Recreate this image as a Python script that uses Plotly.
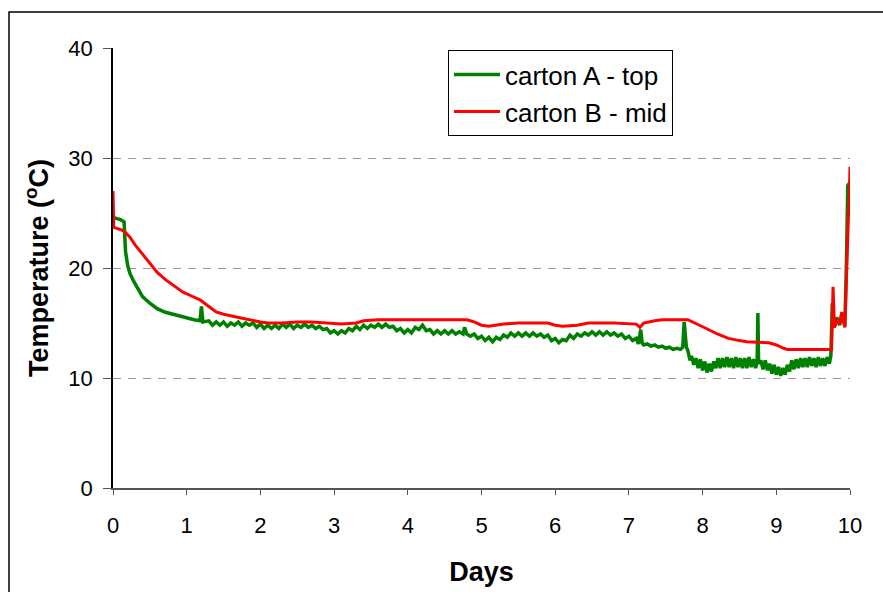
import plotly.graph_objects as go

# ---- data ----
green_days = [0.0, 0.05, 0.1, 0.15, 0.17, 0.2, 0.23, 0.28, 0.32, 0.4, 0.5, 0.6, 0.7, 0.81, 0.9, 1.0, 1.1, 1.18, 1.2, 1.22,
              1.3, 1.35, 1.4, 1.45, 1.5, 1.55, 1.6, 1.65, 1.7, 1.75, 1.8, 1.85, 1.9, 1.95, 2.0, 2.05, 2.1, 2.15, 2.2, 2.25,
              2.3, 2.35, 2.4, 2.45, 2.5, 2.55, 2.6, 2.65, 2.7, 2.75, 2.8, 2.85, 2.9, 2.95, 3.0, 3.05, 3.1, 3.15, 3.2, 3.25,
              3.3, 3.35, 3.4, 3.45, 3.5, 3.55, 3.6, 3.65, 3.7, 3.75, 3.8, 3.85, 3.9, 3.95, 4.0, 4.05, 4.1, 4.15, 4.2, 4.25,
              4.3, 4.35, 4.4, 4.45, 4.5, 4.55, 4.6, 4.65, 4.7, 4.75, 4.77, 4.8, 4.85, 4.9, 4.95, 5.0, 5.05, 5.1, 5.15, 5.2,
              5.25, 5.3, 5.35, 5.4, 5.45, 5.5, 5.55, 5.6, 5.65, 5.7, 5.75, 5.8, 5.85, 5.9, 5.95, 6.0, 6.05, 6.1, 6.15, 6.2,
              6.25, 6.3, 6.35, 6.4, 6.45, 6.5, 6.55, 6.6, 6.65, 6.7, 6.75, 6.8, 6.85, 6.9, 6.95, 7.0, 7.05, 7.1, 7.13, 7.16,
              7.18, 7.2, 7.25, 7.3, 7.35, 7.4, 7.45, 7.5, 7.55, 7.6, 7.65, 7.7, 7.73, 7.75, 7.78, 7.8, 7.83, 7.85,
              7.88, 7.91, 7.94, 7.97, 8.0, 8.03, 8.06, 8.09, 8.12, 8.15, 8.18, 8.21, 8.24, 8.27, 8.3, 8.33, 8.36, 8.39,
              8.42, 8.45, 8.48, 8.51, 8.54, 8.57, 8.6, 8.63, 8.66, 8.69, 8.72, 8.74, 8.75, 8.76, 8.79, 8.82, 8.85, 8.88,
              8.91, 8.94, 8.97, 9.0, 9.03, 9.06, 9.09, 9.12, 9.15, 9.18, 9.21, 9.24, 9.27, 9.3, 9.33, 9.36, 9.39, 9.42,
              9.45, 9.48, 9.51, 9.54, 9.57, 9.6, 9.63, 9.66, 9.69, 9.72, 9.74, 9.76, 9.78, 9.82, 9.86, 9.89, 9.93, 9.95,
              9.97, 10.0]
green_temp = [24.6, 24.5, 24.4, 24.2, 21.5, 20.2, 19.5, 18.8, 18.3, 17.4, 16.8, 16.3, 16.0, 15.8, 15.6, 15.5, 15.3, 15.2, 16.5, 15.1,
              15.2, 14.8, 15.1, 14.8, 15.1, 14.7, 15.0, 14.8, 15.1, 14.7, 15.0, 14.8, 15.0, 14.6, 14.9, 14.5, 14.8, 14.5, 14.8, 14.5,
              14.9, 14.6, 14.9, 14.5, 14.8, 14.6, 14.9, 14.6, 14.8, 14.5, 14.7, 14.4, 14.5, 14.1, 14.3, 14.0, 14.3, 14.1, 14.5, 14.3,
              14.7, 14.4, 14.8, 14.5, 14.8, 14.6, 14.9, 14.6, 14.9, 14.6, 14.7, 14.3, 14.5, 14.1, 14.4, 14.1, 14.6, 14.4, 14.8, 14.3,
              14.4, 14.0, 14.3, 14.0, 14.3, 14.0, 14.3, 14.0, 14.2, 14.0, 14.6, 14.0, 13.8, 14.0, 13.6, 13.8, 13.4, 13.7, 13.3, 13.7,
              13.5, 13.9, 13.7, 14.1, 13.8, 14.1, 13.8, 14.1, 13.8, 14.1, 13.8, 14.0, 13.7, 13.9, 13.4, 13.6, 13.2, 13.5, 13.4, 13.9,
              13.6, 14.0, 13.8, 14.1, 13.9, 14.2, 13.9, 14.2, 13.9, 14.2, 13.9, 14.1, 13.8, 14.0, 13.6, 13.8, 13.4, 13.6, 13.1, 14.4,
              13.2, 13.0, 13.1, 12.9, 13.0, 12.8, 12.9, 12.7, 12.8, 12.6, 12.7, 12.6, 12.8, 15.1, 12.8, 12.5, 11.6, 12.0,
              11.2, 11.8, 10.9, 11.7, 10.7, 11.5, 10.5, 11.3, 10.6, 11.5, 10.9, 11.8, 10.9, 11.8, 11.0, 11.9, 11.0, 11.8,
              10.9, 11.9, 11.0, 11.8, 10.9, 11.8, 10.9, 11.9, 11.0, 11.7, 10.9, 11.5, 15.9, 11.3, 11.6, 10.8, 11.6, 10.7,
              11.3, 10.4, 11.2, 10.3, 11.0, 10.2, 10.9, 10.3, 11.2, 10.6, 11.6, 10.8, 11.7, 10.9, 11.8, 11.0, 11.8, 11.0,
              11.9, 11.1, 11.8, 11.0, 11.9, 11.1, 11.8, 11.1, 11.9, 11.3, 12.0, 16.8, 14.6, 15.5, 14.8, 15.9, 14.7, 20.0,
              27.5, 27.8]

red_days = [0.0, 0.01, 0.05, 0.1, 0.16, 0.23, 0.3, 0.36, 0.43, 0.5, 0.6, 0.72, 0.85, 0.95, 1.05, 1.18, 1.3, 1.4, 1.5, 1.63,
            1.75, 1.85, 2.0, 2.1, 2.3, 2.5, 2.7, 2.9, 3.1, 3.3, 3.4, 3.6, 4.0, 4.4, 4.8, 4.9, 5.0, 5.1, 5.3, 5.5,
            5.9, 6.0, 6.1, 6.3, 6.45, 6.8, 7.1, 7.15, 7.2, 7.35, 7.45, 7.8, 7.9, 8.05, 8.2, 8.35, 8.5, 8.6, 8.9, 9.0,
            9.1, 9.15, 9.75, 9.77, 9.79, 9.83, 9.86, 9.89, 9.93, 9.96, 9.98, 9.99, 10.0]
red_temp = [27.0, 23.7, 23.6, 23.5, 23.3, 22.8, 22.1, 21.6, 21.0, 20.5, 19.6, 18.9, 18.3, 17.8, 17.5, 17.1, 16.5, 16.0, 15.8, 15.6,
            15.4, 15.3, 15.1, 15.0, 15.0, 15.1, 15.1, 15.0, 14.9, 15.0, 15.2, 15.3, 15.3, 15.3, 15.3, 15.1, 14.8, 14.7, 14.9, 15.0,
            15.0, 14.8, 14.7, 14.8, 15.0, 15.0, 14.9, 14.6, 15.0, 15.2, 15.3, 15.3, 15.0, 14.5, 14.0, 13.6, 13.4, 13.3, 13.2, 13.0,
            12.7, 12.6, 12.6, 18.3, 14.6, 15.3, 14.9, 16.0, 14.6, 21.6, 25.0, 26.2, 29.2]

series_names = ["carton A - top", "carton B - mid"]
y_ticks = [0, 10, 20, 30, 40]
x_ticks = list(range(0, 11))

FONT = "Liberation Sans, Arial, sans-serif"

fig = go.Figure()
fig.add_trace(go.Scatter(x=green_days, y=green_temp, mode="lines", name=series_names[0],
                         legendgroup="a", line=dict(color="#008000", width=3.5)))
fig.add_trace(go.Scatter(x=red_days, y=red_temp, mode="lines", name=series_names[1],
                         legendgroup="b", line=dict(color="#FF0000", width=3)))

fig.update_layout(
    width=883, height=592,
    margin=dict(l=113, r=33, t=48, b=104, autoexpand=False),
    paper_bgcolor="white", plot_bgcolor="white",
    font=dict(family=FONT, size=22, color="black"),
    showlegend=True,
    legend=dict(x=0.4545, y=0.995, xanchor="left", yanchor="top",
                bgcolor="white", bordercolor="black", borderwidth=1,
                font=dict(family=FONT, size=26), tracegroupgap=0,
                itemwidth=46, traceorder="grouped"),
    xaxis=dict(range=[0, 10], tickvals=x_ticks, showgrid=False, zeroline=False,
               showline=True, linecolor="#555555", linewidth=1.5,
               ticks="outside", ticklen=5, tickcolor="#555555",
               ticklabelstandoff=12, automargin=False,
               title=dict(text="<b>Days</b>", font=dict(size=27), standoff=25),
               tickfont=dict(size=22)),
    yaxis=dict(range=[0, 40], tickvals=y_ticks, showgrid=True, gridcolor="#999999",
               griddash="8px,7px", gridwidth=1, zeroline=False,
               showline=True, linecolor="black", linewidth=1.5,
               ticks="outside", ticklen=8, tickcolor="#555555",
               ticklabelstandoff=6, automargin=False,
               title=dict(text="<b>Temperature (<sup>o</sup>C)</b>", font=dict(size=27), standoff=12),
               tickfont=dict(size=22)),
    shapes=[dict(type="rect", xref="paper", yref="paper",
                 x0=-0.1411, x1=1.06, y0=-0.30, y1=1.0818,
                 line=dict(color="black", width=1.5), fillcolor="rgba(0,0,0,0)", layer="below")],
)

fig.write_html("out.html")
